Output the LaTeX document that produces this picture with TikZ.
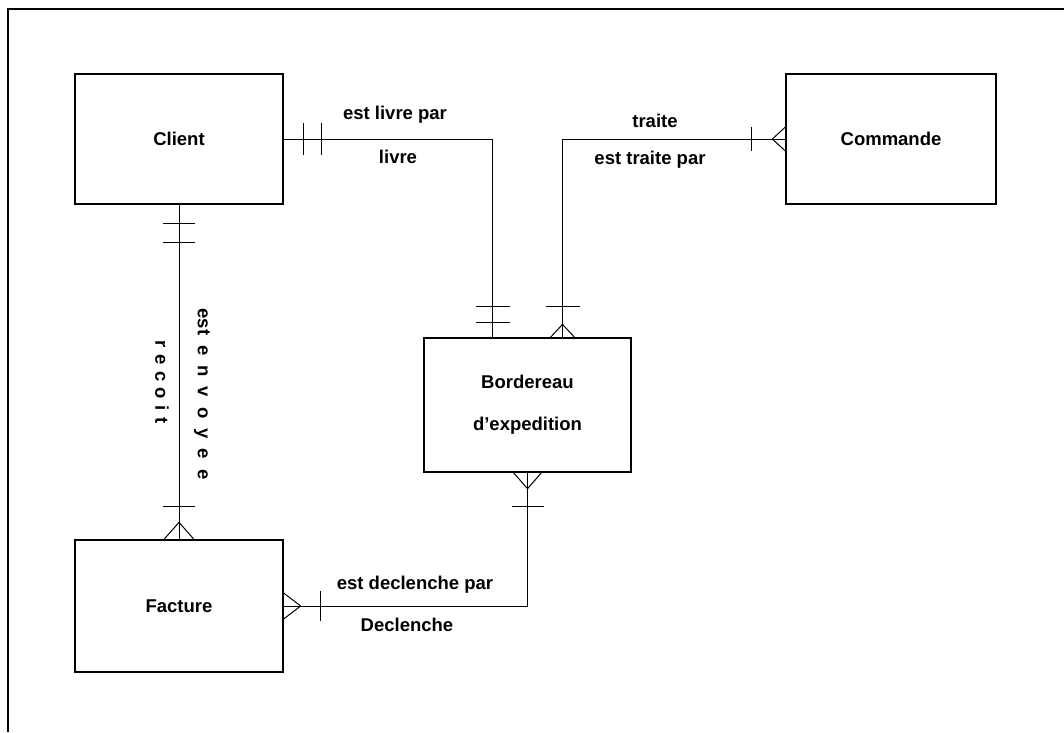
\documentclass[tikz,border=0pt]{standalone}
\usepackage{fontspec}
\setmainfont{Liberation Sans}
\newcommand\gp{\hspace{6.5pt}}
\newcommand\gq{\hspace{10pt}}
\begin{document}
\begin{tikzpicture}[x=1pt,y=-1pt,
  font=\fontsize{18.5}{22}\selectfont\bfseries,
  entity/.style={draw, line width=1.3pt, rectangle, inner sep=0pt, align=center},
  conn/.style={line width=1pt},
  lbl/.style={inner sep=0pt}]
\useasboundingbox (0,0) rectangle (1064,732);
% frame
\draw[line width=1.3pt] (8,732) -- (8,9) -- (1064,9);
% entities
\node[entity, minimum width=208pt, minimum height=130pt] (client) at (179,139) {Client};
\node[entity, minimum width=210pt, minimum height=130pt] (commande) at (891,139) {Commande};
\node[entity, minimum width=207pt, minimum height=134pt] (bord) at (527.5,405) {Bordereau\\[20pt]d'expedition};
\node[entity, minimum width=208pt, minimum height=132pt] (facture) at (179,606) {Facture};
% connectors
\coordinate (bl) at ([xshift=-35pt]bord.north);
\coordinate (br) at ([xshift=35pt]bord.north);
\draw[conn] (client.east) -| (bl);
\draw[conn] (commande.west) -| (br);
\draw[conn] (client.south) -- (facture.north);
\draw[conn] (bord.south) |- (facture.east);
% Client east: one and only one
\draw[conn] ([xshift=20pt]client.east) ++(0,-16) -- ++(0,32);
\draw[conn] ([xshift=38pt]client.east) ++(0,-16) -- ++(0,32);
% Bordereau north-left: one and only one
\draw[conn] ([yshift=31pt]bl) ++(-17,0) -- ++(34,0);
\draw[conn] ([yshift=15pt]bl) ++(-17,0) -- ++(34,0);
% Commande west: one or many
\draw[conn] ([xshift=-34pt]commande.west) ++(0,-12) -- ++(0,24);
\draw[conn] ([xshift=-13pt]commande.west) -- ([yshift=12pt]commande.west);
\draw[conn] ([xshift=-13pt]commande.west) -- ([yshift=-12pt]commande.west);
% Bordereau north-right: one or many
\draw[conn] ([yshift=31pt]br) ++(-17,0) -- ++(34,0);
\draw[conn] ([yshift=13pt]br) -- ([xshift=-12pt]br);
\draw[conn] ([yshift=13pt]br) -- ([xshift=12pt]br);
% Client south: one and only one
\draw[conn] ([yshift=-19pt]client.south) ++(-16,0) -- ++(32,0);
\draw[conn] ([yshift=-38pt]client.south) ++(-16,0) -- ++(32,0);
% Facture north: one or many
\draw[conn] ([yshift=33pt]facture.north) ++(-16,0) -- ++(32,0);
\draw[conn] ([yshift=17pt]facture.north) -- ([xshift=-15pt]facture.north);
\draw[conn] ([yshift=17pt]facture.north) -- ([xshift=15pt]facture.north);
% Bordereau south: one or many
\draw[conn] ([yshift=-34pt]bord.south) ++(-16,0) -- ++(32,0);
\draw[conn] ([yshift=-16pt]bord.south) -- ([xshift=-14pt]bord.south);
\draw[conn] ([yshift=-16pt]bord.south) -- ([xshift=14pt]bord.south);
% Facture east: one or many
\draw[conn] ([xshift=37pt]facture.east) ++(0,-15) -- ++(0,30);
\draw[conn] ([xshift=17pt]facture.east) -- ([yshift=13pt]facture.east);
\draw[conn] ([xshift=17pt]facture.east) -- ([yshift=-13pt]facture.east);
% labels
\node[lbl] (l1) at (395,115) {est livre par};
\node[lbl] (l2) at (398,157) {livre};
\node[lbl] (l3) at (655,121) {traite};
\node[lbl] (l4) at (650,160) {est traite par};
\node[lbl] (l5) at (415,585) {est declenche par};
\node[lbl] (l6) at (407,625) {Declenche};
\node[lbl, rotate=-90] (l7) at (162,382) {r\gp e\gp c\gp o\gp i\gp t};
\node[lbl, rotate=-90] (l8) at (202,394) {est\gq e\gq n\gq v\gq o\gq y\gq e\gq e};
\end{tikzpicture}
\end{document}
